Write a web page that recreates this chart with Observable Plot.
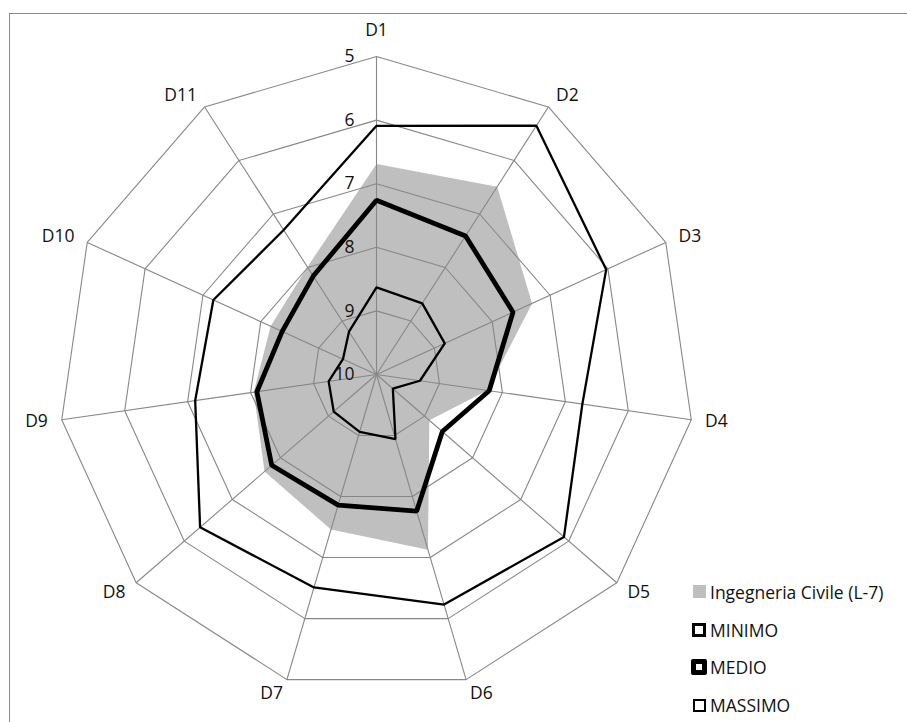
<!DOCTYPE html>
<html><head><meta charset="utf-8">
<script src="https://cdn.jsdelivr.net/npm/d3@7"></script>
<script src="https://cdn.jsdelivr.net/npm/@observablehq/plot@0.6"></script>
<style>
body{margin:0;background:#fff;font-family:"Open Sans",sans-serif;color:#111;}
#wrap{position:relative;width:907px;height:722px;overflow:hidden;background:#fff;}
#frame{position:absolute;left:9px;top:13px;width:1000px;height:1000px;border-left:1px solid #898989;border-top:1px solid #898989;pointer-events:none;}
#chart{position:absolute;left:0;top:0;}
.lg{position:absolute;font-size:17.5px;line-height:22px;white-space:nowrap;}
.sw{position:absolute;box-sizing:border-box;background:#fff;}
</style></head>
<body>
<div id="wrap"><div id="chart"></div><div id="frame"></div><div id="legend"></div></div>
<script>
const categories = ["D1","D2","D3","D4","D5","D6","D7","D8","D9","D10","D11"];
const ticks = [5, 6, 7, 8, 9, 10];
const civile  = [6.69, 6.49, 7.31, 8.24, 8.90, 7.13, 7.46, 7.67, 8.05, 8.17, 7.99];
const minimo  = [6.09, 5.35, 6.03, 6.73, 6.10, 6.23, 6.51, 6.33, 7.12, 7.18, 7.30];
const medio   = [7.26, 7.41, 7.64, 8.21, 8.63, 7.76, 7.86, 7.82, 8.10, 8.37, 8.16];
const massimo = [8.63, 8.67, 8.82, 9.31, 9.66, 8.94, 9.06, 9.11, 9.24, 9.42, 9.20];
const seriesNames = ["Ingegneria Civile (L-7)", "MINIMO", "MEDIO", "MASSIMO"];

const W = 907, H = 722, CX = 376, CY = 374, K = 63.6;
const N = categories.length;
const vMax = d3.max(ticks), vMin = d3.min(ticks);
const ang = i => i * 2 * Math.PI / N;
const rad = v => vMax - v;
const px = (i, v) => rad(v) * Math.sin(ang(i));
const py = (i, v) => rad(v) * Math.cos(ang(i));
const rows = vals => vals.map((v, i) => ({i, x: px(i, v), y: py(i, v)}));

const rings = ticks.filter(t => t < vMax).flatMap(t => categories.map((c, i) => ({t, x: px(i, t), y: py(i, t)})));
const spokes = categories.map((c, i) => ({x: px(i, vMin), y: py(i, vMin)}));
const LR = rad(vMin) + 14 / K;
const labels = categories.map((c, i) => ({c, s: Math.sin(ang(i)), x: LR * Math.sin(ang(i)), y: LR * Math.cos(ang(i))}));

const grid = "#878787";
const chart = Plot.plot({
  width: W, height: H, margin: 0,
  x: {domain: [-CX / K, (W - CX) / K], axis: null},
  y: {domain: [-(H - CY) / K, CY / K], axis: null},
  style: {fontFamily: "'Open Sans', sans-serif", fontSize: "17.5px", background: "transparent", color: "#111"},
  marks: [
    Plot.line(rows(civile), {x: "x", y: "y", curve: "linear-closed", fill: "#bfbfbf", stroke: "none"}),
    Plot.line(rings, {x: "x", y: "y", z: "t", curve: "linear-closed", stroke: grid, strokeWidth: 1.1}),
    Plot.link(spokes, {x1: 0, y1: 0, x2: "x", y2: "y", stroke: grid, strokeWidth: 1.1}),
    Plot.line(rows(minimo), {x: "x", y: "y", curve: "linear-closed", stroke: "#000", strokeWidth: 2.3, strokeLinejoin: "miter"}),
    Plot.line(rows(medio), {x: "x", y: "y", curve: "linear-closed", stroke: "#000", strokeWidth: 4.8, strokeLinejoin: "miter"}),
    Plot.line(rows(massimo), {x: "x", y: "y", curve: "linear-closed", stroke: "#000", strokeWidth: 2.3, strokeLinejoin: "miter"}),
    Plot.text(ticks, {x: 0, y: t => rad(t), text: d => String(d), textAnchor: "end", dx: -22, fill: "#111"}),
    Plot.text(labels.filter(d => d.s > 0.1), {x: "x", y: "y", text: "c", textAnchor: "start", fill: "#111"}),
    Plot.text(labels.filter(d => d.s < -0.1), {x: "x", y: "y", text: "c", textAnchor: "end", fill: "#111"}),
    Plot.text(labels.filter(d => Math.abs(d.s) <= 0.1), {x: "x", y: "y", text: "c", textAnchor: "middle", dy: -12, fill: "#111"})
  ]
});
document.getElementById("chart").appendChild(chart);

// legend
const lg = document.getElementById("legend");
const swStyles = [
  {left: 693, size: 13, css: "background:#bfbfbf;"},
  {left: 692, size: 14, css: "border:3px solid #000;"},
  {left: 691, size: 16, css: "border:5px solid #000;border-radius:2px;"},
  {left: 693, size: 13, css: "border:2px solid #000;"}
];
seriesNames.forEach((name, k) => {
  const cy = 591.7 + k * 37.8;
  const s = swStyles[k];
  const sw = document.createElement("div");
  sw.className = "sw";
  sw.style.cssText = `left:${s.left}px;top:${cy - s.size / 2}px;width:${s.size}px;height:${s.size}px;` + s.css;
  lg.appendChild(sw);
  const t = document.createElement("div");
  t.className = "lg";
  t.style.left = "710px";
  t.style.top = (cy - 11) + "px";
  t.textContent = name;
  lg.appendChild(t);
});
</script>
</body></html>
